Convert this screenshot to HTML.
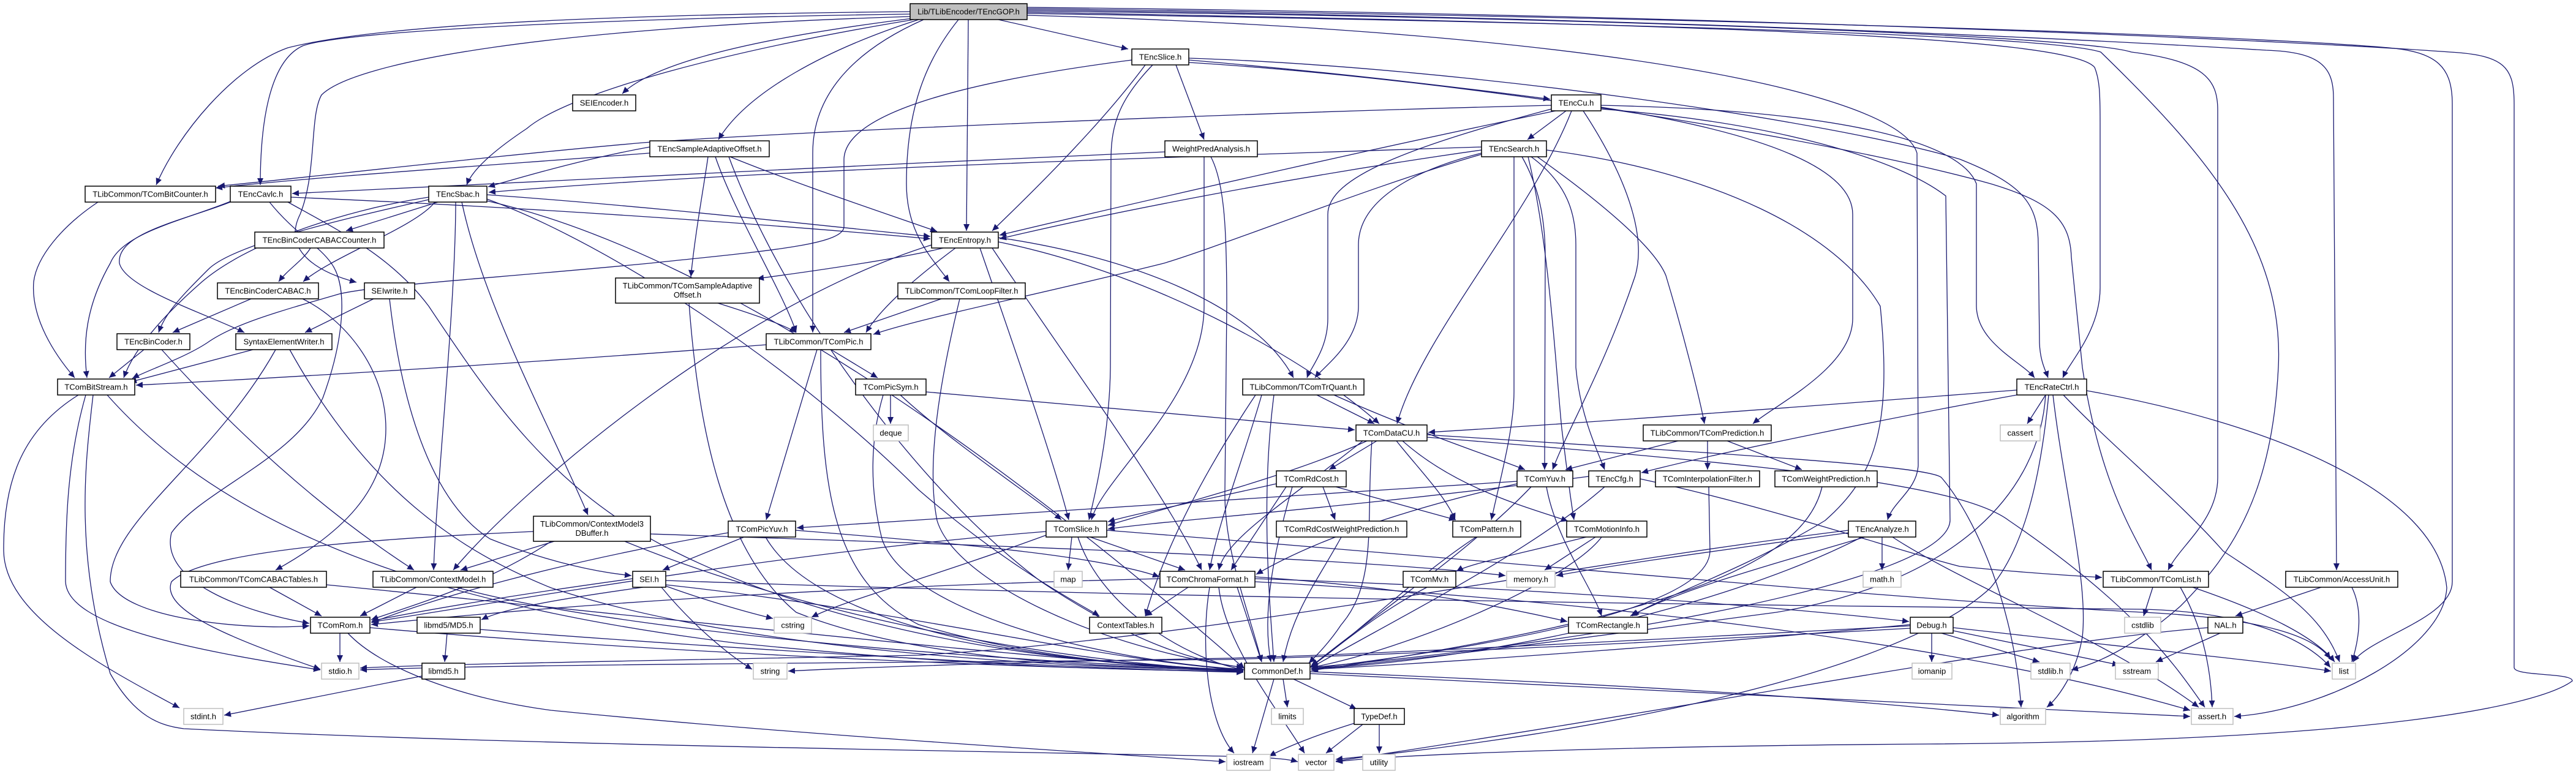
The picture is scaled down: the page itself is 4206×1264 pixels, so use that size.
<!DOCTYPE html>
<html>
<head>
<meta charset="utf-8">
<style>
html,body{margin:0;padding:0;background:#fff;}
svg{display:block;}
.e{fill:none;stroke:#191970;stroke-width:1.3;marker-end:url(#a);}
.n{fill:#fff;stroke:#000;stroke-width:1.5;}
.g{fill:#fff;stroke:#bfbfbf;stroke-width:1.5;}
.r{fill:#bfbfbf;stroke:#000;stroke-width:1.5;}
text{font-family:"Liberation Sans",Arial,sans-serif;font-size:13px;fill:#000;text-anchor:middle;}
</style>
</head>
<body>
<svg width="4206" height="1264" viewBox="0 0 4206 1264" xmlns="http://www.w3.org/2000/svg">
<defs>
<marker id="a" markerWidth="12" markerHeight="10" refX="11" refY="5" orient="auto" markerUnits="userSpaceOnUse">
<path d="M0,0 L11,5 L0,10 z" fill="#191970"/>
</marker>
</defs>
<g>
<!-- GOP -->
<path class="e" d="M1486,19 C900,25 600,45 470,78 C380,110 290,220 255,302"/>
<path class="e" d="M1486,23 C1000,30 560,50 494,75 C440,100 425,200 425,302"/>
<path class="e" d="M1486,27 C900,45 580,100 525,155 C505,190 518,280 490,350 C460,410 520,445 582,461"/>
<path class="e" d="M1490,30 C1250,60 1070,100 1016,153"/>
<path class="e" d="M1492,32 C1200,80 930,150 860,210 C800,250 770,280 762,302"/>
<path class="e" d="M1500,32 C1350,80 1220,150 1173,228"/>
<path class="e" d="M1508,32 C1400,80 1327,150 1327,250 L1327,543"/>
<path class="e" d="M1581,32 L1578,377"/>
<path class="e" d="M1630,32 L1842,80"/>
<path class="e" d="M1677,20 C2800,40 3380,60 3420,110 C3428,130 3429,150 3429,200 L3429,470 C3429,540 3380,590 3368,617"/>
<path class="e" d="M1677,18 C2700,30 3400,60 3480,85 C3600,100 3621,130 3621,180 L3621,780 C3621,850 3560,890 3540,931"/>
<path class="e" d="M1677,16 C2800,30 3500,70 3700,82 C3790,85 3810,110 3810,160 L3815,931"/>
<path class="e" d="M1677,14 C2900,30 3700,60 3900,78 C3980,85 4004,110 4004,170 L4004,950 C4004,1010 3870,1040 3842,1081"/>
<path class="e" d="M1677,12 C2900,25 3800,70 4000,85 C4090,90 4105,110 4105,170 L4105,1090 C4105,1105 4200,1098 4200,1112 C4150,1150 3900,1210 3150,1215 C2700,1218 2300,1230 2181,1244"/>
<path class="e" d="M1677,22 C2800,40 3350,60 3430,85 C3600,250 3730,400 3720,600 C3710,800 3650,900 3560,990 C3480,1060 3420,1085 3382,1094"/>
<path class="e" d="M1677,25 C2600,50 3100,150 3130,250 L3132,760 C3130,800 3090,820 3082,849"/>
<path class="e" d="M1565,32 C1510,100 1480,180 1480,300 C1480,380 1520,420 1550,460"/>
<!-- Slice -->
<path class="e" d="M1941,98 C2200,120 2400,145 2531,162"/>
<path class="e" d="M1920,106 L1966,228"/>
<path class="e" d="M1870,106 C1800,200 1700,300 1620,377"/>
<path class="e" d="M1848,98 C1600,130 1380,180 1378,260 L1378,370 C1378,400 1250,410 1060,430 C800,455 620,465 554,480 C450,510 380,530 338,560 C300,585 240,605 216,618"/>
<path class="e" d="M1882,106 C1830,160 1814,200 1814,260 L1813,600 C1812,700 1790,800 1778,849"/>
<path class="e" d="M1941,95 C2400,110 3000,200 3200,260 C3300,300 3328,330 3328,400 L3330,560 C3331,590 3340,605 3344,617"/>
<path class="e" d="M1941,102 C2400,130 3000,230 3250,300 C3350,330 3380,360 3382,420 L3400,600 C3430,800 3490,880 3513,931"/>
<!-- Cu -->
<path class="e" d="M2557,181 L2494,228"/>
<path class="e" d="M2533,172 C2000,185 1300,215 1050,233 C800,255 500,290 356,304"/>
<path class="e" d="M2540,181 C2300,230 1900,320 1632,384"/>
<path class="e" d="M2566,181 C2500,350 2320,550 2281,692"/>
<path class="e" d="M2585,181 C2650,280 2690,380 2670,450 C2620,600 2560,700 2535,767"/>
<path class="e" d="M2533,178 C2300,240 2168,290 2168,350 L2168,520 C2168,570 2140,600 2134,617"/>
<path class="e" d="M2614,175 C2900,220 3025,280 3025,350 L3025,520 C3025,600 2900,660 2862,692"/>
<path class="e" d="M2614,172 C3000,180 3200,230 3227,300 L3227,500 C3228,560 3300,590 3322,617"/>
<path class="e" d="M2614,178 C2900,200 3100,260 3177,320 L3184,850 C3180,950 2600,1050 2141,1090"/>
<!-- Search -->
<path class="e" d="M2419,240 C1800,260 1200,280 798,314"/>
<path class="e" d="M2419,245 C2100,290 1800,350 1632,390"/>
<path class="e" d="M2419,252 C2250,300 2000,400 1900,430 C1700,480 1500,520 1426,546"/>
<path class="e" d="M2419,250 C2300,280 2218,330 2218,400 L2218,500 C2218,560 2160,600 2147,617"/>
<path class="e" d="M2485,256 C2510,300 2523,350 2523,420 L2522,767"/>
<path class="e" d="M2472,256 L2472,640 C2472,700 2450,780 2435,849"/>
<path class="e" d="M2500,256 C2560,300 2573,350 2573,400 L2573,600 C2580,680 2610,740 2620,767"/>
<path class="e" d="M2510,256 C2600,320 2700,400 2720,450 C2750,550 2775,650 2783,692"/>
<path class="e" d="M2525,245 C2800,280 3000,380 3070,500 C3090,700 3060,780 2980,850 C2850,930 2700,980 2665,1006"/>
<path class="e" d="M2495,256 C2530,400 2540,600 2550,700 C2560,780 2565,820 2570,849"/>
<!-- WPA -->
<path class="e" d="M1902,248 C1400,270 800,300 477,316"/>
<path class="e" d="M1966,256 L1966,500 C1966,650 1800,780 1782,849"/>
<path class="e" d="M1977,256 C2000,300 2003,380 2003,500 L2000,800 C1998,900 2040,1000 2060,1081"/>
<!-- SAO -->
<path class="e" d="M1061,240 C950,260 850,290 797,305"/>
<path class="e" d="M1061,250 C800,270 500,290 352,307"/>
<path class="e" d="M1192,256 C1300,300 1450,350 1530,378"/>
<path class="e" d="M1156,256 C1150,300 1135,380 1128,452"/>
<path class="e" d="M1168,256 C1200,350 1280,480 1300,543"/>
<path class="e" d="M1190,256 C1280,500 1500,800 1700,950 C1850,1050 1950,1080 2030,1090"/>
<!-- BitCounter -->
<path class="e" d="M160,330 C100,370 60,420 55,460 C50,520 90,580 122,617"/>
<!-- Cavlc -->
<path class="e" d="M475,322 C900,340 1300,370 1519,390"/>
<path class="e" d="M376,329 C300,360 200,380 180,430 C140,500 135,560 142,617"/>
<path class="e" d="M376,330 C300,360 190,380 195,430 C205,470 330,510 399,543"/>
<path class="e" d="M440,330 C480,380 520,400 541,430 C570,470 560,560 527,650 C480,750 330,800 280,870 C260,950 400,1000 505,1018"/>
<path class="e" d="M470,330 C560,380 640,420 700,500 C800,650 900,800 1100,900 C1400,1050 1800,1090 2030,1094"/>
<!-- Sbac -->
<path class="e" d="M715,330 L565,377"/>
<path class="e" d="M710,330 C680,370 540,420 495,460"/>
<path class="e" d="M795,318 C1100,340 1350,370 1519,386"/>
<path class="e" d="M744,330 C744,500 712,800 708,931"/>
<path class="e" d="M754,330 C790,500 900,700 960,841"/>
<path class="e" d="M700,322 C550,345 400,400 330,460 C250,530 215,580 202,617"/>
<path class="e" d="M700,326 C550,360 380,400 340,440 C300,480 270,510 259,543"/>
<path class="e" d="M795,325 C1000,400 1300,600 1500,800 C1650,930 1770,990 1795,1006"/>
<path class="e" d="M795,328 C1200,420 1700,800 2032,1092"/>
<!-- Entropy -->
<path class="e" d="M1540,405 C1480,420 1350,440 1236,455"/>
<path class="e" d="M1560,405 C1500,450 1440,500 1414,543"/>
<path class="e" d="M1521,400 C1200,500 850,800 740,931"/>
<path class="e" d="M1600,405 C1650,550 1720,750 1745,849"/>
<path class="e" d="M1630,395 C1900,450 2150,600 2252,692"/>
<path class="e" d="M1630,388 C1850,420 2050,500 2112,617"/>
<path class="e" d="M1620,405 C1750,600 1900,800 1962,931"/>
<!-- LoopFilter -->
<path class="e" d="M1537,488 L1378,543"/>
<path class="e" d="M1567,488 C1540,600 1510,750 1530,850 C1560,950 1800,1060 2030,1090"/>
<!-- ComSAO -->
<path class="e" d="M1172,495 C1220,510 1280,530 1300,543"/>
<path class="e" d="M1125,495 C1140,700 1180,900 1300,1000 C1500,1080 1800,1090 2030,1093"/>
<!-- BinCoder CABAC family -->
<path class="e" d="M507,405 C495,425 470,440 455,460"/>
<path class="e" d="M410,488 L282,543"/>
<path class="e" d="M494,488 C560,520 630,600 630,700 C630,800 560,870 450,931"/>
<!-- SEIwrite -->
<path class="e" d="M610,488 L498,543"/>
<path class="e" d="M636,488 C660,700 720,830 800,880 C900,920 980,935 1031,940"/>
<!-- BinCoder -->
<path class="e" d="M235,571 L178,617"/>
<path class="e" d="M264,571 C380,700 520,830 676,931"/>
<!-- SEW -->
<path class="e" d="M413,571 L212,624"/>
<path class="e" d="M450,571 C350,750 180,850 180,950 C200,1010 400,1030 505,1022"/>
<path class="e" d="M473,571 C600,800 750,900 900,960 C1200,1060 1700,1090 2030,1095"/>
<!-- Pic -->
<path class="e" d="M1251,563 C900,590 500,615 222,629"/>
<path class="e" d="M1357,571 L1433,617"/>
<path class="e" d="M1334,571 L1251,849"/>
<path class="e" d="M1340,571 C1340,800 1360,950 1500,1020 C1700,1080 1900,1090 2030,1094"/>
<!-- PicSym -->
<path class="e" d="M1454,645 L1454,692"/>
<path class="e" d="M1470,645 C1550,720 1700,820 1733,849"/>
<path class="e" d="M1512,640 L2212,702"/>
<path class="e" d="M1442,645 C1420,720 1420,800 1440,880 C1480,1000 1800,1080 2030,1093"/>
<!-- TrQuant -->
<path class="e" d="M2150,645 L2244,692"/>
<path class="e" d="M2178,645 C2300,700 2420,740 2490,767"/>
<path class="e" d="M2060,645 C2030,750 1990,850 1975,931"/>
<path class="e" d="M2050,645 C1960,780 1900,900 1870,1006"/>
<path class="e" d="M2080,645 C2060,800 2070,950 2080,1081"/>
<!-- RateCtrl -->
<path class="e" d="M3340,645 L3310,692"/>
<path class="e" d="M3293,637 C3000,660 2600,690 2332,706"/>
<path class="e" d="M3293,645 C3100,680 2800,740 2680,772"/>
<path class="e" d="M3340,645 C3330,800 3200,950 2900,1000 C2600,1040 2300,1080 2141,1092"/>
<path class="e" d="M3407,638 C3700,690 3980,800 3995,960 C3990,1060 3800,1160 3648,1170"/>
<path class="e" d="M3352,645 C3370,800 3410,950 3400,1040 C3390,1100 3360,1140 3342,1155"/>
<path class="e" d="M3345,645 C3330,800 3300,900 3250,960 C3100,1100 2600,1200 2181,1240"/>
<path class="e" d="M3369,645 C3450,730 3560,820 3630,900 C3720,960 3790,1000 3820,1081"/>
<!-- DataCU -->
<path class="e" d="M2232,720 C2100,780 1900,830 1809,858"/>
<path class="e" d="M2248,720 L2170,767"/>
<path class="e" d="M2280,720 C2320,770 2360,810 2376,849"/>
<path class="e" d="M2290,720 C2380,800 2500,830 2560,851"/>
<path class="e" d="M2240,720 C2230,850 2250,950 2190,1020 C2170,1050 2150,1070 2137,1083"/>
<path class="e" d="M2330,710 C2800,740 3150,760 3170,780 C3230,850 3290,1000 3300,1155"/>
<path class="e" d="M2330,714 C2900,760 3200,790 3280,850 C3500,1000 3560,1100 3600,1155"/>
<path class="e" d="M2225,720 C2100,820 2000,880 1990,931"/>
<!-- Pred -->
<path class="e" d="M2740,720 L2556,767"/>
<path class="e" d="M2788,720 L2788,767"/>
<path class="e" d="M2820,720 L2942,767"/>
<!-- RdCost -->
<path class="e" d="M2084,790 C1950,820 1850,840 1809,852"/>
<path class="e" d="M2160,795 L2180,849"/>
<path class="e" d="M2181,795 L2377,849"/>
<path class="e" d="M2110,795 C2080,900 2060,1000 2075,1081"/>
<path class="e" d="M2100,795 L2010,931"/>
<!-- Yuv -->
<path class="e" d="M2477,786 C2000,820 1600,840 1301,862"/>
<path class="e" d="M2525,795 C2540,880 2600,960 2615,1006"/>
<path class="e" d="M2500,795 C2400,900 2250,1000 2141,1088"/>
<path class="e" d="M2477,790 C2300,830 2150,880 2051,938"/>
<!-- Cfg -->
<path class="e" d="M2594,778 C2200,830 1900,850 1809,864"/>
<path class="e" d="M2678,782 C2900,830 3100,900 3200,925 C3300,935 3380,940 3432,943"/>
<path class="e" d="M2620,795 C2500,900 2300,1000 2141,1090"/>
<!-- Interp, WP -->
<path class="e" d="M2790,795 L2792,900 C2790,1000 2400,1060 2141,1092"/>
<path class="e" d="M2975,795 C2950,900 2800,1000 2141,1095"/>
<!-- CM3D -->
<path class="e" d="M905,884 L752,931"/>
<path class="e" d="M871,868 C600,880 330,900 280,950 C260,1000 400,1050 523,1093"/>
<path class="e" d="M1062,872 C1600,890 2200,910 2458,940"/>
<path class="e" d="M900,884 C800,950 700,980 606,1012"/>
<path class="e" d="M1020,884 C1300,1000 1700,1080 2030,1096"/>
<!-- PicYuv -->
<path class="e" d="M1215,877 L1082,931"/>
<path class="e" d="M1189,870 C900,920 700,980 607,1017"/>
<path class="e" d="M1299,866 C1600,890 1800,910 1893,942"/>
<path class="e" d="M1250,877 C1320,1000 1600,1080 2030,1096"/>
<!-- cstring -->
<path class="e" d="M1087,957 C1150,980 1220,1000 1262,1010"/>
<path class="e" d="M1708,874 C1500,950 1380,980 1325,1008"/>
<!-- ComSlice -->
<path class="e" d="M1750,877 L1744,931"/>
<path class="e" d="M1780,877 L1935,931"/>
<path class="e" d="M1708,868 C1300,900 900,970 606,1016"/>
<path class="e" d="M1760,877 C1800,1000 1950,1080 2032,1094"/>
<path class="e" d="M1807,866 C2500,920 3100,980 3500,1000 C3700,1010 3780,1040 3805,1076"/>
<!-- RdCostWP, Pattern, MotionInfo -->
<path class="e" d="M2190,877 C2150,950 2110,1000 2095,1081"/>
<path class="e" d="M2410,877 C2300,950 2200,1050 2141,1087"/>
<path class="e" d="M2590,877 C2500,900 2400,920 2378,933"/>
<path class="e" d="M2605,877 L2522,931"/>
<path class="e" d="M2615,877 C2560,950 2300,1060 2141,1090"/>
<!-- Analyze -->
<path class="e" d="M3073,877 L3073,931"/>
<path class="e" d="M3018,870 C2800,900 2650,920 2541,940"/>
<path class="e" d="M3018,866 C2500,930 2000,1040 1500,1070 C1000,1080 700,1085 588,1091"/>
<path class="e" d="M3040,877 C2800,1000 2400,1080 2141,1092"/>
<path class="e" d="M3090,877 C3200,950 3450,1050 3590,1155"/>
<path class="e" d="M3045,877 C2900,920 2750,960 2662,1006"/>
<!-- CABACTables, ContextModel -->
<path class="e" d="M440,959 L525,1006"/>
<path class="e" d="M533,955 C1000,1000 1700,1080 2030,1095"/>
<path class="e" d="M680,959 L588,1006"/>
<path class="e" d="M745,959 C1000,1030 1600,1080 2030,1094"/>
<!-- SEI -->
<path class="e" d="M1087,948 C2000,980 3000,990 3500,995 C3700,1000 3780,1060 3805,1090"/>
<path class="e" d="M1033,945 C850,970 700,995 607,1014"/>
<path class="e" d="M1050,959 C900,980 820,995 786,1012"/>
<path class="e" d="M1080,959 C1130,1020 1190,1070 1228,1093"/>
<path class="e" d="M1087,955 C1500,1000 1800,1080 2030,1094"/>
<!-- Chroma -->
<path class="e" d="M1940,959 L1870,1006"/>
<path class="e" d="M1894,945 C1300,960 900,990 606,1020"/>
<path class="e" d="M2020,959 L2060,1081"/>
<path class="e" d="M1975,959 C1960,1050 1970,1180 2015,1230"/>
<path class="e" d="M1990,959 C2000,1050 2080,1150 2130,1230"/>
<path class="e" d="M2049,950 C2600,980 3200,1050 3576,1160"/>
<path class="e" d="M2049,945 C2500,960 2900,990 3117,1015"/>
<path class="e" d="M2049,942 C2300,960 2450,990 2559,1015"/>
<!-- Mv, List, AU -->
<path class="e" d="M2330,959 C2250,1000 2180,1060 2139,1090"/>
<path class="e" d="M3580,959 C3700,1000 3780,1040 3812,1081"/>
<path class="e" d="M3560,959 C3600,1030 3610,1100 3612,1155"/>
<path class="e" d="M3515,959 L3500,1006"/>
<path class="e" d="M3790,959 L3650,1006"/>
<path class="e" d="M3840,959 C3860,1000 3850,1050 3840,1081"/>
<!-- Rom, MD5 -->
<path class="e" d="M555,1034 L555,1081"/>
<path class="e" d="M568,1034 C620,1090 750,1140 900,1160 C1300,1200 1800,1230 2001,1244"/>
<path class="e" d="M604,1025 C1000,1060 1600,1090 2030,1097"/>
<path class="e" d="M730,1034 L726,1081"/>
<path class="e" d="M784,1028 C1200,1060 1700,1090 2030,1098"/>
<!-- Debug -->
<path class="e" d="M3154,1034 L3154,1081"/>
<path class="e" d="M3170,1034 L3330,1081"/>
<path class="e" d="M3189,1030 L3460,1086"/>
<path class="e" d="M3189,1025 C3500,1060 3700,1080 3806,1096"/>
<path class="e" d="M3119,1026 C2600,1055 2200,1072 2000,1077 C1500,1082 800,1085 588,1094"/>
<path class="e" d="M3119,1022 C2600,1050 2200,1070 2000,1075 C1700,1080 1400,1090 1287,1096"/>
<path class="e" d="M3119,1020 C2800,1050 2400,1080 2141,1093"/>
<!-- NAL, libmd5 -->
<path class="e" d="M3605,1025 C3300,1050 2800,1150 2181,1243"/>
<path class="e" d="M3625,1034 L3520,1081"/>
<path class="e" d="M689,1104 L366,1168"/>
<!-- CommonDef, TypeDef -->
<path class="e" d="M2080,1109 L2045,1230"/>
<path class="e" d="M2095,1109 L2102,1155"/>
<path class="e" d="M2112,1109 L2215,1158"/>
<path class="e" d="M2139,1097 C2700,1120 3000,1140 3264,1168"/>
<path class="e" d="M2139,1100 C2800,1130 3300,1160 3576,1170"/>
<path class="e" d="M2225,1183 L2165,1230"/>
<path class="e" d="M2252,1183 L2252,1230"/>
<path class="e" d="M2215,1180 C2150,1200 2100,1220 2072,1235"/>
<!-- BitStream -->
<path class="e" d="M128,645 C40,700 5,780 6,900 C8,1000 150,1080 293,1156"/>
<path class="e" d="M140,645 C110,750 107,850 107,950 C110,1020 300,1060 523,1094"/>
<path class="e" d="M152,645 C140,750 120,900 180,1100 C220,1170 260,1185 300,1190 C800,1215 1500,1225 2000,1235 C2080,1237 2105,1240 2119,1244"/>
<path class="e" d="M175,645 C400,900 800,1000 1200,1050 C1600,1090 1850,1095 2030,1096"/>
</g>
<g>
<rect class="r" x="1486" y="6" width="191" height="26"/><text x="1581.5" y="23.5">Lib/TLibEncoder/TEncGOP.h</text>
<rect class="n" x="1848" y="80" width="93" height="26"/><text x="1894.5" y="97.5">TEncSlice.h</text>
<rect class="n" x="935" y="155" width="103" height="26"/><text x="986.5" y="172.5">SEIEncoder.h</text>
<rect class="n" x="2533" y="155" width="81" height="26"/><text x="2573.5" y="172.5">TEncCu.h</text>
<rect class="n" x="1061" y="230" width="195" height="26"/><text x="1158.5" y="247.5">TEncSampleAdaptiveOffset.h</text>
<rect class="n" x="1902" y="230" width="151" height="26"/><text x="1977.5" y="247.5">WeightPredAnalysis.h</text>
<rect class="n" x="2419" y="230" width="106" height="26"/><text x="2472" y="247.5">TEncSearch.h</text>
<rect class="n" x="139" y="304" width="213" height="26"/><text x="245.5" y="321.5">TLibCommon/TComBitCounter.h</text>
<rect class="n" x="376" y="304" width="99" height="26"/><text x="425.5" y="321.5">TEncCavlc.h</text>
<rect class="n" x="700" y="304" width="95" height="26"/><text x="747.5" y="321.5">TEncSbac.h</text>
<rect class="n" x="1521" y="379" width="109" height="26"/><text x="1575.5" y="396.5">TEncEntropy.h</text>
<rect class="n" x="416" y="379" width="211" height="26"/><text x="521.5" y="396.5">TEncBinCoderCABACCounter.h</text>
<rect class="n" x="355" y="462" width="165" height="26"/><text x="437.5" y="479.5">TEncBinCoderCABAC.h</text>
<rect class="n" x="595" y="462" width="82" height="26"/><text x="636" y="479.5">SEIwrite.h</text>
<rect class="n" x="1005" y="454" width="235" height="41"/><text x="1122.5" y="471">TLibCommon/TComSampleAdaptive</text><text x="1122.5" y="486">Offset.h</text>
<rect class="n" x="1466" y="462" width="208" height="26"/><text x="1570" y="479.5">TLibCommon/TComLoopFilter.h</text>
<rect class="n" x="191" y="545" width="119" height="26"/><text x="250.5" y="562.5">TEncBinCoder.h</text>
<rect class="n" x="385" y="545" width="157" height="26"/><text x="463.5" y="562.5">SyntaxElementWriter.h</text>
<rect class="n" x="1251" y="545" width="171" height="26"/><text x="1336.5" y="562.5">TLibCommon/TComPic.h</text>
<rect class="n" x="94" y="619" width="126" height="26"/><text x="157" y="636.5">TComBitStream.h</text>
<rect class="n" x="1397" y="619" width="115" height="26"/><text x="1454.5" y="636.5">TComPicSym.h</text>
<rect class="n" x="2029" y="619" width="198" height="26"/><text x="2128" y="636.5">TLibCommon/TComTrQuant.h</text>
<rect class="n" x="3293" y="619" width="114" height="26"/><text x="3350" y="636.5">TEncRateCtrl.h</text>
<rect class="g" x="1426" y="694" width="57" height="26"/><text x="1454.5" y="711.5">deque</text>
<rect class="n" x="2214" y="694" width="116" height="26"/><text x="2272" y="711.5">TComDataCU.h</text>
<rect class="n" x="2683" y="694" width="209" height="26"/><text x="2787.5" y="711.5">TLibCommon/TComPrediction.h</text>
<rect class="g" x="3266" y="694" width="65" height="26"/><text x="3298.5" y="711.5">cassert</text>
<rect class="n" x="2084" y="769" width="114" height="26"/><text x="2141" y="786.5">TComRdCost.h</text>
<rect class="n" x="2477" y="769" width="91" height="26"/><text x="2522.5" y="786.5">TComYuv.h</text>
<rect class="n" x="2594" y="769" width="84" height="26"/><text x="2636" y="786.5">TEncCfg.h</text>
<rect class="n" x="2703" y="769" width="170" height="26"/><text x="2788" y="786.5">TComInterpolationFilter.h</text>
<rect class="n" x="2898" y="769" width="167" height="26"/><text x="2981.5" y="786.5">TComWeightPrediction.h</text>
<rect class="n" x="871" y="843" width="191" height="41"/><text x="966.5" y="860">TLibCommon/ContextModel3</text><text x="966.5" y="875">DBuffer.h</text>
<rect class="n" x="1189" y="851" width="110" height="26"/><text x="1244" y="868.5">TComPicYuv.h</text>
<rect class="n" x="1708" y="851" width="99" height="26"/><text x="1757.5" y="868.5">TComSlice.h</text>
<rect class="n" x="2084" y="851" width="213" height="26"/><text x="2190.5" y="868.5">TComRdCostWeightPrediction.h</text>
<rect class="n" x="2372" y="851" width="111" height="26"/><text x="2427.5" y="868.5">TComPattern.h</text>
<rect class="n" x="2558" y="851" width="131" height="26"/><text x="2623.5" y="868.5">TComMotionInfo.h</text>
<rect class="n" x="3018" y="851" width="110" height="26"/><text x="3073" y="868.5">TEncAnalyze.h</text>
<rect class="n" x="295" y="933" width="238" height="26"/><text x="414" y="950.5">TLibCommon/TComCABACTables.h</text>
<rect class="n" x="609" y="933" width="196" height="26"/><text x="707" y="950.5">TLibCommon/ContextModel.h</text>
<rect class="n" x="1033" y="933" width="54" height="26"/><text x="1060" y="950.5">SEI.h</text>
<rect class="g" x="1721" y="933" width="46" height="26"/><text x="1744" y="950.5">map</text>
<rect class="n" x="1894" y="933" width="155" height="26"/><text x="1971.5" y="950.5">TComChromaFormat.h</text>
<rect class="n" x="2291" y="933" width="86" height="26"/><text x="2334" y="950.5">TComMv.h</text>
<rect class="g" x="2460" y="933" width="79" height="26"/><text x="2499.5" y="950.5">memory.h</text>
<rect class="g" x="3042" y="933" width="62" height="26"/><text x="3073" y="950.5">math.h</text>
<rect class="n" x="3434" y="933" width="172" height="26"/><text x="3520" y="950.5">TLibCommon/TComList.h</text>
<rect class="n" x="3732" y="933" width="183" height="26"/><text x="3823.5" y="950.5">TLibCommon/AccessUnit.h</text>
<rect class="n" x="507" y="1008" width="97" height="26"/><text x="555.5" y="1025.5">TComRom.h</text>
<rect class="n" x="681" y="1008" width="103" height="26"/><text x="732.5" y="1025.5">libmd5/MD5.h</text>
<rect class="g" x="1264" y="1008" width="61" height="26"/><text x="1294.5" y="1025.5">cstring</text>
<rect class="n" x="1779" y="1008" width="118" height="26"/><text x="1838" y="1025.5">ContextTables.h</text>
<rect class="n" x="2561" y="1008" width="129" height="26"/><text x="2625.5" y="1025.5">TComRectangle.h</text>
<rect class="n" x="3119" y="1008" width="70" height="26"/><text x="3154" y="1025.5">Debug.h</text>
<rect class="g" x="3469" y="1008" width="59" height="26"/><text x="3498.5" y="1025.5">cstdlib</text>
<rect class="n" x="3605" y="1008" width="57" height="26"/><text x="3633.5" y="1025.5">NAL.h</text>
<rect class="g" x="525" y="1083" width="61" height="26"/><text x="555.5" y="1100.5">stdio.h</text>
<rect class="n" x="689" y="1083" width="70" height="26"/><text x="724" y="1100.5">libmd5.h</text>
<rect class="g" x="1230" y="1083" width="55" height="26"/><text x="1257.5" y="1100.5">string</text>
<rect class="n" x="2032" y="1083" width="107" height="26"/><text x="2085.5" y="1100.5">CommonDef.h</text>
<rect class="g" x="3122" y="1083" width="65" height="26"/><text x="3154.5" y="1100.5">iomanip</text>
<rect class="g" x="3316" y="1083" width="64" height="26"/><text x="3348" y="1100.5">stdlib.h</text>
<rect class="g" x="3454" y="1083" width="70" height="26"/><text x="3489" y="1100.5">sstream</text>
<rect class="g" x="3808" y="1083" width="38" height="26"/><text x="3827" y="1100.5">list</text>
<rect class="g" x="300" y="1157" width="64" height="26"/><text x="332" y="1174.5">stdint.h</text>
<rect class="g" x="2076" y="1157" width="52" height="26"/><text x="2102" y="1174.5">limits</text>
<rect class="n" x="2211" y="1157" width="82" height="26"/><text x="2252" y="1174.5">TypeDef.h</text>
<rect class="g" x="3266" y="1157" width="74" height="26"/><text x="3303" y="1174.5">algorithm</text>
<rect class="g" x="3578" y="1157" width="68" height="26"/><text x="3612" y="1174.5">assert.h</text>
<rect class="g" x="2003" y="1232" width="71" height="26"/><text x="2038.5" y="1249.5">iostream</text>
<rect class="g" x="2120" y="1232" width="58" height="26"/><text x="2149" y="1249.5">vector</text>
<rect class="g" x="2225" y="1232" width="53" height="26"/><text x="2251.5" y="1249.5">utility</text>
</g>
</svg>
</body>
</html>
